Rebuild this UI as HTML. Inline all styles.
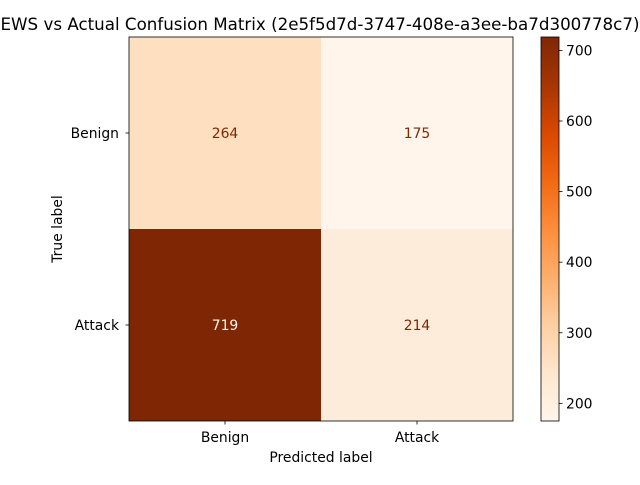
<!DOCTYPE html>
<html><head><meta charset="utf-8"><style>
body{margin:0;background:#fff;}
svg text{font-family:"DejaVu Sans","Liberation Sans",sans-serif;}
</style></head><body>
<svg id="chart" width="640" height="480" xmlns="http://www.w3.org/2000/svg">
<defs>
<linearGradient id="cbgrad" x1="0" y1="1" x2="0" y2="0">
<stop offset="0" stop-color="#fff5eb"/><stop offset="0.125" stop-color="#fee6ce"/><stop offset="0.25" stop-color="#fdd0a2"/><stop offset="0.375" stop-color="#fdae6b"/><stop offset="0.5" stop-color="#fd8d3c"/><stop offset="0.625" stop-color="#f16913"/><stop offset="0.75" stop-color="#d94801"/><stop offset="0.875" stop-color="#a63603"/><stop offset="1" stop-color="#7f2704"/>
</linearGradient>
</defs>
<text x="320" y="30" font-size="16.7" text-anchor="middle">EWS vs Actual Confusion Matrix (2e5f5d7d-3747-408e-a3ee-ba7d300778c7)</text>
<g id="cells"></g>
<rect x="129" y="37" width="384" height="384" fill="none" stroke="#000" stroke-width="0.8"/>
<g id="axes" font-size="13.9"></g>
<text x="321" y="462" font-size="13.9" text-anchor="middle">Predicted label</text>
<text x="62" y="229" font-size="13.9" text-anchor="middle" transform="rotate(-90 62 229)">True label</text>
<rect x="541" y="37" width="18" height="384" fill="url(#cbgrad)" stroke="#000" stroke-width="0.8"/>
<g id="cbticks" font-size="13.9"></g>
</svg>
<script>
const labels = ["Benign","Attack"];
const matrix = [[264,175],[719,214]];
const cbTicks = [200,300,400,500,600,700];
const vmin = 175, vmax = 719;

const NS="http://www.w3.org/2000/svg";
const stops=["#fff5eb","#fee6ce","#fdd0a2","#fdae6b","#fd8d3c","#f16913","#d94801","#a63603","#7f2704"];
function hx(c){return [1,3,5].map(i=>parseInt(c.substr(i,2),16));}
function cmap(t){t=Math.max(0,Math.min(1,t));const p=t*8,i=Math.min(7,Math.floor(p)),f=p-i;const a=hx(stops[i]),b=hx(stops[i+1]);return "rgb("+a.map((v,k)=>Math.round(v+(b[k]-v)*f)).join(",")+")";}
const x0=129,y0=37,W=384,H=384,n=labels.length,cw=W/n,ch=H/n;
const xPos=j=>x0+cw*(j+0.5), yPos=i=>y0+ch*(i+0.5);
const cbY=v=>421-(v-vmin)/(vmax-vmin)*384;
function mk(tag,attrs,parent){const e=document.createElementNS(NS,tag);for(const k in attrs)e.setAttribute(k,attrs[k]);parent.appendChild(e);return e;}
const cells=document.getElementById("cells");
matrix.forEach((row,i)=>row.forEach((v,j)=>{
  const t=(v-vmin)/(vmax-vmin);
  const r=mk("rect",{x:x0+cw*j,y:y0+ch*i,width:cw,height:ch,fill:cmap(t)},cells);
  
  
  const tx=mk("text",{x:xPos(j),y:yPos(i)+5,"font-size":13.9,"text-anchor":"middle",fill:t>0.5?"#fff5eb":"#7f2704"},cells);
  tx.textContent=v;
  
  
}));
const ax=document.getElementById("axes");
labels.forEach((l,j)=>{
  mk("line",{x1:xPos(j),x2:xPos(j),y1:421,y2:424.5,stroke:"#000","stroke-width":0.8},ax);
  const t=mk("text",{x:xPos(j),y:442,"text-anchor":"middle"},ax);t.textContent=l;
  
  
  mk("line",{x1:125.5,x2:129,y1:yPos(j),y2:yPos(j),stroke:"#000","stroke-width":0.8},ax);
  const u=mk("text",{x:119,y:yPos(j)+5,"text-anchor":"end"},ax);u.textContent=l;
  
  
});
const cb=document.getElementById("cbticks");
cbTicks.forEach(v=>{
  const y=cbY(v);
  mk("line",{x1:559,x2:562.5,y1:y,y2:y,stroke:"#000","stroke-width":0.8},cb);
  const t=mk("text",{x:566,y:y+5},cb);t.textContent=v;
  
  
});
</script>
</body></html>
